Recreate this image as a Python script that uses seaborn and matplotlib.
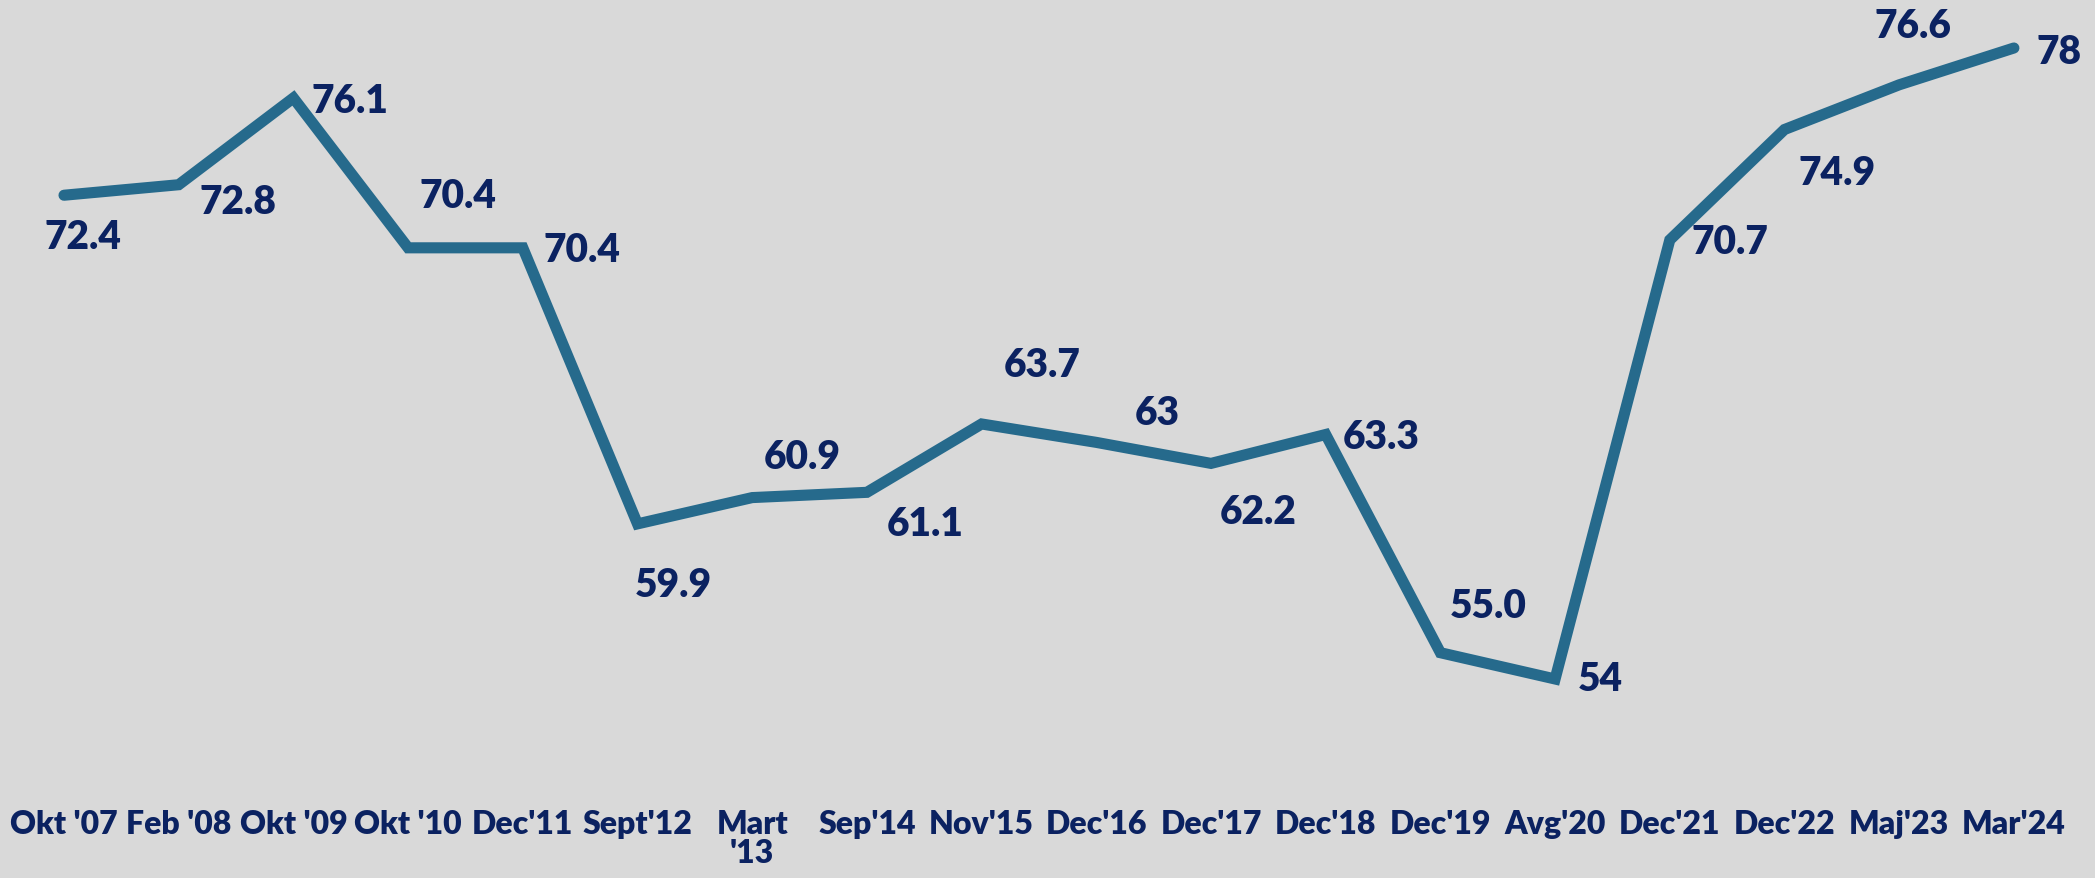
import matplotlib
matplotlib.use("Agg")
import matplotlib.pyplot as plt
import seaborn as sns
import pandas as pd
import numpy as np

categories = ["Okt '07", "Feb '08", "Okt '09", "Okt '10", "Dec'11", "Sept'12", "Mart\n'13",
              "Sep'14", "Nov'15", "Dec'16", "Dec'17", "Dec'18", "Dec'19", "Avg'20",
              "Dec'21", "Dec'22", "Maj'23", "Mar'24"]
values = [72.4, 72.8, 76.1, 70.4, 70.4, 59.9, 60.9, 61.1, 63.7, 63.0, 62.2, 63.3, 55.0, 54.0,
          70.7, 74.9, 76.6, 78.0]
value_labels = ["72.4", "72.8", "76.1", "70.4", "70.4", "59.9", "60.9", "61.1", "63.7", "63",
                "62.2", "63.3", "55.0", "54", "70.7", "74.9", "76.6", "78"]
# label offsets in pixels (dx, dy; dy positive = up)
label_offsets = [(19, -41), (59, -17), (57, -3), (50, 52), (59, -2), (36, -61), (50, 41),
                 (58, -31), (61, 59), (61, 30), (47, -48), (55, -2), (48, 47), (45, 0),
                 (60, -2), (53, -43), (14, 59), (45, -3)]

BG = "#d9d9d9"
LINE = "#266a8c"
TXT = "#0b2261"

sns.set_theme(style="white")
plt.rcParams['font.family'] = ['Lato', 'DejaVu Sans']

W, H = 2095, 879
fig = plt.figure(figsize=(W / 100, H / 100), dpi=100, facecolor=BG)
ax_bottom_px = 800
ax = fig.add_axes([0, (H - ax_bottom_px) / H, 1, ax_bottom_px / H])
ax.set_facecolor(BG)

df = pd.DataFrame({"x": np.arange(len(values)), "v": values})
sns.lineplot(data=df, x="x", y="v", ax=ax, color=LINE, linewidth=8,
             solid_capstyle="round", solid_joinstyle="miter")

spacing = 114.7
x0 = 64
ax.set_xlim(-x0 / spacing, (W - x0) / spacing)
ppu = (680 - 49) / 24.0
ytop = 78 + 49 / ppu
ybot = 78 - (ax_bottom_px - 49) / ppu
ax.set_ylim(ybot, ytop)

for i, (v, lab) in enumerate(zip(values, value_labels)):
    dx, dy = label_offsets[i]
    ax.annotate(lab, (i, v), xytext=(dx * 0.72, dy * 0.72), textcoords="offset points",
                ha="center", va="center", fontsize=28, fontweight="heavy", color=TXT)

ax.set_xticks(np.arange(len(categories)))
ax.set_xticklabels(categories, fontsize=23, fontweight="heavy", color=TXT,
                   va="top", ha="center", linespacing=1.0)
ax.tick_params(axis="x", length=0, pad=7)
ax.set_yticks([])
ax.set_xlabel("")
ax.set_ylabel("")
for s in ax.spines.values():
    s.set_visible(False)

fig.savefig("out.png", dpi=100, facecolor=BG)
